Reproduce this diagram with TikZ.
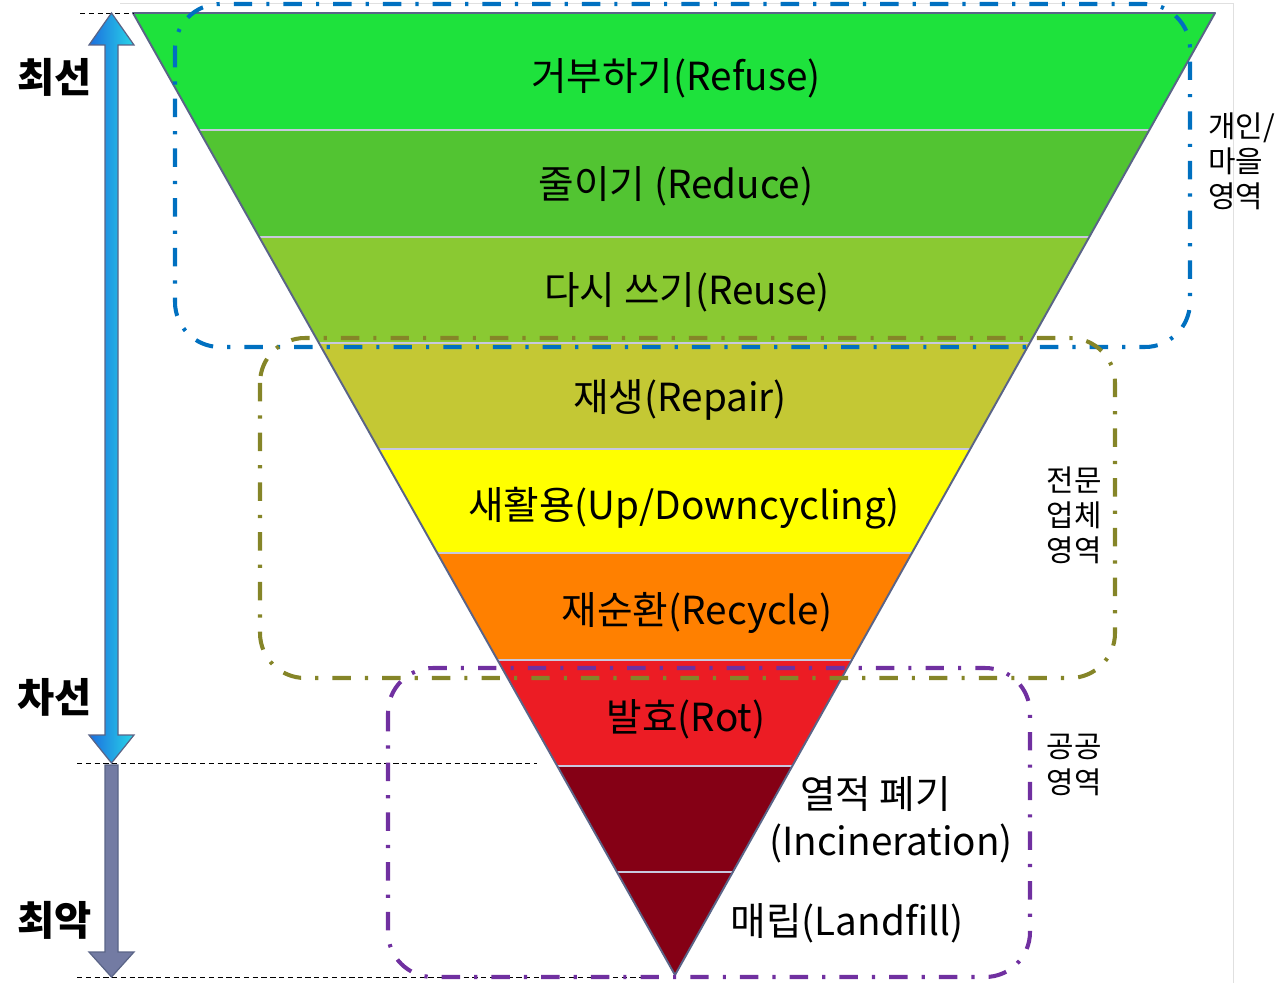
\documentclass[tikz,border=0pt]{standalone}
\usepackage{fontspec}
\setmainfont{Noto Sans CJK KR}
\definecolor{refusecol}{RGB}{30,226,60}
\definecolor{reducecol}{RGB}{82,196,50}
\definecolor{reusecol}{RGB}{138,201,50}
\definecolor{repaircol}{RGB}{196,200,52}
\definecolor{upcyclecol}{RGB}{255,255,0}
\definecolor{recyclecol}{RGB}{255,128,0}
\definecolor{rotcol}{RGB}{236,28,36}
\definecolor{burncol}{RGB}{133,0,21}
\definecolor{sepcol}{RGB}{200,200,222}
\definecolor{rimcol}{RGB}{90,100,135}
\definecolor{arrowblue}{RGB}{28,110,222}
\definecolor{arrowcyan}{RGB}{40,214,232}
\definecolor{worstcol}{RGB}{115,123,163}
\definecolor{personalcol}{RGB}{0,112,192}
\definecolor{expertcol}{RGB}{133,133,40}
\definecolor{publiccol}{RGB}{112,48,160}

\begin{document}
\begin{tikzpicture}
      [
        x = 0.02cm, y = -0.02cm,
        sep/.style = {draw = sepcol, line width = 1.6pt},
        rim/.style = {draw = rimcol, line width = 1.1pt, line join = round},
        region/.style = {line width = 2.3pt, rounded corners = 0.9cm,
            dash pattern = on 10.5pt off 8pt on 1.8pt off 8pt},
        lbl/.style = {font = \fontsize{22}{27}\selectfont, align = center},
        side/.style = {font = \fontsize{17}{20}\selectfont, align = left},
        rank/.style = {font = \bfseries\fontsize{23}{27}\selectfont},
        guide/.style = {draw = black, line width = 0.5pt, dash pattern = on 3pt off 2pt},
      ]

      \useasboundingbox (0,0) rectangle (1285,983);

      \draw[black!12, line width = 0.5pt] (120,3) -- (1233,3) -- (1233,983);

      \coordinate (tl) at (133,13);
      \coordinate (tr) at (1215,13);
      \coordinate (apex) at (675,975);

      \fill[refusecol]  (tl) -- (tr) -- (1149.3,130) -- (198.9,130) -- cycle;
      \fill[reducecol]  (198.9,130) -- (1149.3,130) -- (1089.3,237) -- (259.2,237) -- cycle;
      \fill[reusecol]   (259.2,237) -- (1089.3,237) -- (1029.8,343) -- (318.9,343) -- cycle;
      \fill[repaircol]  (318.9,343) -- (1029.8,343) -- (970.3,449) -- (378.6,449) -- cycle;
      \fill[upcyclecol] (378.6,449) -- (970.3,449) -- (911.9,553) -- (437.2,553) -- cycle;
      \fill[recyclecol] (437.2,553) -- (911.9,553) -- (851.8,660) -- (497.5,660) -- cycle;
      \fill[rotcol]     (497.5,660) -- (851.8,660) -- (792.3,766) -- (557.2,766) -- cycle;
      \fill[burncol]    (557.2,766) -- (792.3,766) -- (732.8,872) -- (617.0,872) -- cycle;
      \fill[burncol]    (617.0,872) -- (732.8,872) -- (apex) -- cycle;

      \draw[sep] (198.9,130) -- (1149.3,130);
      \draw[sep] (259.2,237) -- (1089.3,237);
      \draw[sep] (318.9,343) -- (1029.8,343);
      \draw[sep] (378.6,449) -- (970.3,449);
      \draw[sep] (437.2,553) -- (911.9,553);
      \draw[sep] (497.5,660) -- (851.8,660);
      \draw[sep] (557.2,766) -- (792.3,766);
      \draw[sep] (617.0,872) -- (732.8,872);
      \draw[rim] (tl) -- (tr) -- (apex) -- cycle;

      \coordinate (best) at (111.5,13);
      \coordinate (second) at (111.5,763);
      \coordinate (worst) at (111.5,977);

      \draw[guide] (80,13) -- (tl);
      \draw[guide] (77,763) -- (537,763);
      \draw[guide] (77,977) -- (650,977);

      \shadedraw[left color = arrowblue, right color = arrowcyan, draw = rimcol, line width = 0.7pt]
        (best) -- (134,45) -- (118,45) -- (118,735) -- (134,735) -- (second)
        -- (89,735) -- (105,735) -- (105,45) -- (89,45) -- cycle;
      \filldraw[fill = worstcol, draw = rimcol, line width = 0.7pt]
        (105,765) -- (118,765) -- (118,952) -- (134,952) -- (worst) -- (89,952) -- (105,952) -- cycle;

      \draw[region, personalcol] (175,4) rectangle (1190,347);
      \draw[region, expertcol] (260,338) rectangle (1115,678);
      \draw[region, publiccol] (388,668) rectangle (1030,977);

      \node[lbl] (refuse) at (676,78) {거부하기(Refuse)};
      \node[lbl] (reduce) at (676,186) {줄이기 (Reduce)};
      \node[lbl] (reuse) at (687,292) {다시 쓰기(Reuse)};
      \node[lbl] (repair) at (680,400) {재생(Repair)};
      \node[lbl] (upcycle) at (684,508) {새활용(Up/Downcycling)};
      \node[lbl] (recycle) at (697,613) {재순환(Recycle)};
      \node[lbl] (rot) at (686,719) {발효(Rot)};
      \node[lbl] (burn) at (891,820) {열적 폐기\hspace*{0.8em}\\(Incineration)};
      \node[lbl] (landfill) at (847,923) {매립(Landfill)};

      \node[rank] (bestlbl) at (55,77) {최선};
      \node[rank] (secondlbl) at (55,697) {차선};
      \node[rank] (worstlbl) at (55,920) {최악};

      \node[side, anchor = west] (personal) at (1202,161) {개인/\\마을\\영역};
      \node[side] (expert) at (1074,515) {전문\\업체\\영역};
      \node[side] (public) at (1074,765) {공공\\영역};

    \end{tikzpicture}
\end{document}
